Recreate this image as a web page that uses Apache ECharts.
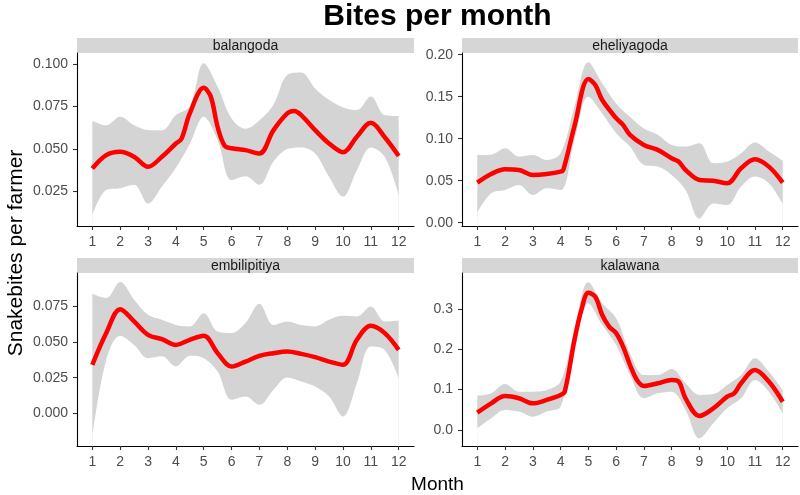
<!DOCTYPE html>
<html>
<head>
<meta charset="utf-8">
<script src="https://cdn.jsdelivr.net/npm/echarts@6/dist/echarts.min.js"></script>
<style>html,body{margin:0;padding:0;background:#fff}#c{width:800px;height:495px}</style>
</head>
<body>
<div id="c"></div>
<script>
// ---- data ----
const panelNames = ['balangoda', 'eheliyagoda', 'embilipitiya', 'kalawana'];
const monthTicks = [1, 2, 3, 4, 5, 6, 7, 8, 9, 10, 11, 12];
const bandX = [1, 1.5, 2, 2.5, 3, 3.5, 4, 4.5, 5, 5.5, 6, 6.5, 7, 7.5, 8, 8.5, 9, 9.5, 10, 10.5, 11, 11.5, 12];

const balangodaX = [1, 1.5, 2, 2.5, 3, 3.5, 4, 4.2, 4.5, 5, 5.25, 5.5, 5.75, 6, 6.5, 7, 7.5, 8, 8.25, 8.5, 9, 9.5, 10, 10.5, 11, 11.5, 12];
const balangodaFit = [0.0386, 0.0465, 0.0484, 0.0455, 0.0396, 0.0455, 0.0533, 0.056, 0.071, 0.086, 0.081, 0.063, 0.052, 0.0505, 0.0494, 0.0474, 0.061, 0.071, 0.0724, 0.070, 0.0612, 0.0533, 0.0482, 0.0573, 0.0655, 0.057, 0.046];
const balangodaLower = [0.0111, 0.026, 0.027, 0.029, 0.018, 0.028, 0.039, 0.053, 0.069, 0.0553, 0.0317, 0.034, 0.029, 0.0425, 0.050, 0.051, 0.0474, 0.0337, 0.022, 0.0376, 0.051, 0.0455, 0.0229];
const balangodaUpper = [0.0667, 0.064, 0.069, 0.064, 0.0612, 0.061, 0.070, 0.075, 0.1005, 0.0867, 0.068, 0.062, 0.067, 0.076, 0.0936, 0.0950, 0.0857, 0.079, 0.0745, 0.073, 0.081, 0.070, 0.0694];

const eheliyagodaX = [1, 1.5, 2, 2.5, 3, 3.5, 4, 4.1, 4.5, 5, 5.25, 5.5, 6, 6.25, 6.5, 7, 7.5, 8, 8.25, 8.5, 9, 9.5, 10, 10.5, 11, 11.5, 12];
const eheliyagodaFit = [0.0477, 0.058, 0.0636, 0.0628, 0.0569, 0.058, 0.0608, 0.063, 0.115, 0.171, 0.164, 0.146, 0.1245, 0.1165, 0.1046, 0.0926, 0.0867, 0.0767, 0.0728, 0.0628, 0.0509, 0.050, 0.0469, 0.0648, 0.0755, 0.0668, 0.0477];
const eheliyagodaLower = [0.0119, 0.035, 0.039, 0.0449, 0.033, 0.041, 0.039, 0.0986, 0.150, 0.130, 0.1066, 0.0907, 0.0688, 0.0668, 0.0569, 0.039, 0.005, 0.023, 0.021, 0.043, 0.055, 0.047, 0.0223];
const eheliyagodaUpper = [0.0807, 0.081, 0.0887, 0.0787, 0.0807, 0.0747, 0.0827, 0.138, 0.191, 0.166, 0.142, 0.126, 0.112, 0.1046, 0.0926, 0.0907, 0.0946, 0.0708, 0.0728, 0.0827, 0.0954, 0.0847, 0.0736];

const embilipitiyaX = [1, 1.5, 2, 2.5, 3, 3.5, 4, 4.5, 5, 5.5, 6, 6.5, 7, 7.5, 8, 8.5, 9, 9.5, 10, 10.5, 11, 11.5, 12];
const embilipitiyaFit = [0.034, 0.0563, 0.0731, 0.0645, 0.0551, 0.052, 0.048, 0.0516, 0.0544, 0.0422, 0.0328, 0.0363, 0.0403, 0.0422, 0.0434, 0.0417, 0.0394, 0.0363, 0.034, 0.0516, 0.0614, 0.0563, 0.0445];
const embilipitiyaLower = [-0.0164, 0.0375, 0.0544, 0.048, 0.0387, 0.040, 0.0328, 0.0403, 0.0387, 0.0293, 0.0094, 0.0117, 0.0059, 0.0164, 0.0251, 0.0223, 0.0188, 0.0117, -0.0023, 0.0211, 0.0469, 0.0445, 0.0246];
const embilipitiyaUpper = [0.0839, 0.0809, 0.0921, 0.0797, 0.0691, 0.0656, 0.062, 0.061, 0.0703, 0.0574, 0.0563, 0.0633, 0.0769, 0.062, 0.0645, 0.062, 0.061, 0.0656, 0.0684, 0.068, 0.075, 0.0645, 0.0652];

const kalawanaX = [1, 1.5, 2, 2.5, 3, 3.5, 4, 4.15, 4.5, 4.75, 5, 5.25, 5.5, 5.75, 6, 6.25, 6.5, 6.75, 7, 7.5, 8, 8.25, 8.5, 9, 9.5, 10, 10.25, 10.5, 11, 11.5, 12];
const kalawanaFit = [0.043, 0.066, 0.084, 0.0785, 0.066, 0.0744, 0.0868, 0.095, 0.223, 0.2975, 0.340, 0.33, 0.285, 0.256, 0.240, 0.2066, 0.161, 0.124, 0.109, 0.1157, 0.124, 0.12, 0.0785, 0.0347, 0.0537, 0.0826, 0.0909, 0.1157, 0.1488, 0.12, 0.070];
const kalawanaLower = [0.004, 0.029, 0.0496, 0.0455, 0.033, 0.0455, 0.058, 0.198, 0.314, 0.260, 0.2107, 0.136, 0.0785, 0.091, 0.095, 0.0496, -0.0207, 0.0165, 0.0537, 0.0785, 0.124, 0.095, 0.041];
const kalawanaUpper = [0.085, 0.091, 0.114, 0.095, 0.095, 0.099, 0.12, 0.248, 0.366, 0.314, 0.277, 0.19, 0.136, 0.136, 0.151, 0.1157, 0.0868, 0.089, 0.1116, 0.136, 0.1777, 0.1446, 0.099];

const yTicks = [
  [0.025, 0.050, 0.075, 0.100],
  [0.00, 0.05, 0.10, 0.15, 0.20],
  [0.000, 0.025, 0.050, 0.075],
  [0.0, 0.1, 0.2, 0.3]
];
const yDecimals = [3, 2, 3, 1];

// ---- layout / style ----
const FONT = 'Liberation Sans, Arial, Helvetica, sans-serif';
const yRange = [[0.0048, 0.1065], [-0.0039, 0.202], [-0.023, 0.0985], [-0.0397, 0.389]];
const grids = [
  {left: 77, top: 53, width: 337, height: 173},
  {left: 462, top: 53, width: 336, height: 173},
  {left: 77, top: 273, width: 337, height: 173},
  {left: 462, top: 273, width: 336, height: 173}
];
const panels = [
  {x: balangodaX, fit: balangodaFit, lo: balangodaLower, hi: balangodaUpper},
  {x: eheliyagodaX, fit: eheliyagodaFit, lo: eheliyagodaLower, hi: eheliyagodaUpper},
  {x: embilipitiyaX, fit: embilipitiyaFit, lo: embilipitiyaLower, hi: embilipitiyaUpper},
  {x: kalawanaX, fit: kalawanaFit, lo: kalawanaLower, hi: kalawanaUpper}
];
const zip = (a, b) => a.map((v, i) => [v, b[i]]);

const xAxes = [], yAxes = [], series = [], graphics = [];
panels.forEach((p, i) => {
  xAxes.push({
    type: 'value', gridIndex: i, min: 0.45, max: 12.55, z: 10,
    axisLine: {show: true, onZero: false, lineStyle: {color: '#000', width: 1.1}},
    axisTick: {show: true, length: 4, lineStyle: {color: '#333', width: 1.1}, customValues: monthTicks},
    axisLabel: {color: '#4d4d4d', fontSize: 14, fontFamily: FONT, margin: 9, customValues: monthTicks},
    splitLine: {show: false}
  });
  yAxes.push({
    type: 'value', gridIndex: i, min: yRange[i][0], max: yRange[i][1], z: 10,
    axisLine: {show: true, onZero: false, lineStyle: {color: '#000', width: 1.1}},
    axisTick: {show: true, length: 4, lineStyle: {color: '#333', width: 1.1}, customValues: yTicks[i]},
    axisLabel: {color: '#4d4d4d', fontSize: 14, fontFamily: FONT, margin: 9, customValues: yTicks[i],
      formatter: v => Number(v).toFixed(yDecimals[i])},
    splitLine: {show: false}
  });
  // confidence band: gray fill under the upper bound, then white fill under the lower bound
  series.push({
    type: 'line', xAxisIndex: i, yAxisIndex: i, data: zip(bandX, p.hi),
    symbol: 'none', smooth: 0.35, lineStyle: {opacity: 0},
    areaStyle: {color: '#d4d4d4', opacity: 1, origin: 'start'}, silent: true, z: 1
  });
  series.push({
    type: 'line', xAxisIndex: i, yAxisIndex: i, data: zip(bandX, p.lo),
    symbol: 'none', smooth: 0.35, lineStyle: {opacity: 0},
    areaStyle: {color: '#ffffff', opacity: 1, origin: 'start'}, silent: true, z: 2
  });
  series.push({
    type: 'line', xAxisIndex: i, yAxisIndex: i, data: zip(p.x, p.fit),
    symbol: 'none', smooth: 0.35, lineStyle: {color: '#ff0000', width: 4.5}, z: 3
  });
  const g = grids[i];
  graphics.push({type: 'rect', shape: {x: g.left, y: g.top - 15, width: g.width, height: 15}, style: {fill: '#d6d6d6'}, silent: true});
  graphics.push({type: 'text', x: g.left + g.width / 2, y: g.top - 7, style: {text: panelNames[i], fill: '#1a1a1a', font: '14px ' + FONT, align: 'center', verticalAlign: 'middle'}});
});

graphics.push({type: 'text', x: 437.5, y: 17, style: {text: 'Bites per month', fill: '#000', font: 'bold 30px ' + FONT, align: 'center', verticalAlign: 'middle'}});
graphics.push({type: 'text', x: 437.5, y: 485, style: {text: 'Month', fill: '#000', font: '19px ' + FONT, align: 'center', verticalAlign: 'middle'}});
graphics.push({type: 'text', x: 16, y: 253, rotation: Math.PI / 2, style: {text: 'Snakebites per farmer', fill: '#000', font: '21px ' + FONT, align: 'center', verticalAlign: 'middle'}});

const chart = echarts.init(document.getElementById('c'), null, {renderer: 'canvas'});
chart.setOption({
  animation: false,
  backgroundColor: '#fff',
  grid: grids,
  xAxis: xAxes,
  yAxis: yAxes,
  series: series,
  graphic: graphics
});
</script>
</body>
</html>
